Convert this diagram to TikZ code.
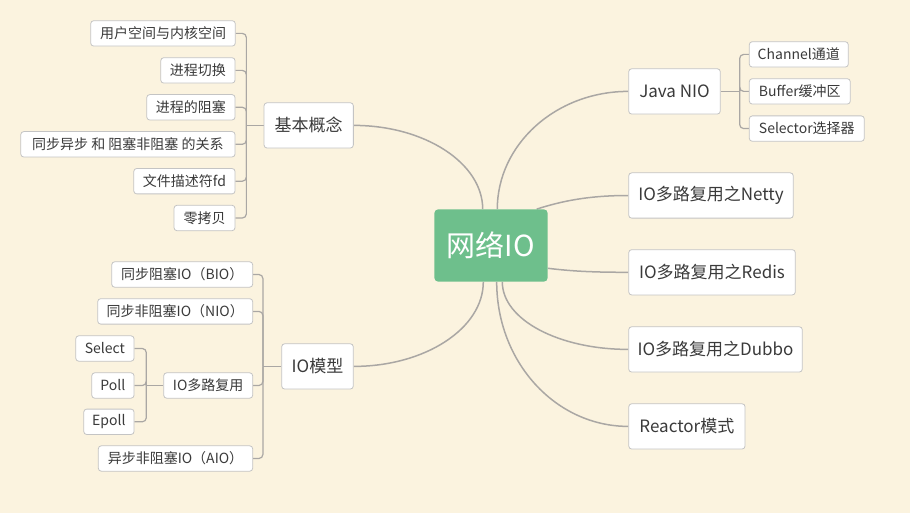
\documentclass[tikz,border=0pt]{standalone}
\usepackage{fontspec}
\setmainfont{Noto Sans CJK SC}
\usetikzlibrary{calc,backgrounds}
\definecolor{bg}{HTML}{FBF3DF}
\definecolor{gline}{HTML}{AAA7A4}
\definecolor{bord}{HTML}{C4C4C4}
\definecolor{ctr}{HTML}{6EBF8C}
\definecolor{txt}{HTML}{3A3A3A}
\begin{document}
\begin{tikzpicture}[x=1pt,y=-1pt,
  topic/.style={draw=bord, line width=0.8pt, fill=white, rounded corners=3pt, text=txt,
    inner sep=1pt, minimum height=45.3pt, font=\fontsize{17}{20}\selectfont},
  sub/.style={draw=bord, line width=0.8pt, fill=white, rounded corners=3pt, text=txt,
    inner sep=1pt, minimum height=25.4pt, font=\fontsize{14}{16}\selectfont},
  central/.style={fill=ctr, rounded corners=4pt, text=white, inner sep=1pt,
    minimum width=113.4pt, minimum height=72.4pt, font=\fontsize{29}{34}\selectfont},
  link/.style={draw=gline, line width=1.5pt},
  brk/.style={draw=gline, line width=1.2pt, rounded corners=4pt}]
\begin{scope}[on background layer]
  \fill[bg] (0,0) rectangle (910,513);
\end{scope}
\useasboundingbox (0,0) rectangle (910,513);

% central topic
\node[central] (c) at (491,245.5) {网络IO};

% left: basic concepts
\node[topic, minimum width=89.3pt] (kb) at (308.7,125.4) {基本概念};
\node[sub, minimum width=144.6pt] (k1) at (163,33.4) {用户空间与内核空间};
\node[sub, minimum width=74.3pt]  (k2) at (197.9,70.4) {进程切换};
\node[sub, minimum width=88.3pt]  (k3) at (190.9,107.3) {进程的阻塞};
\node[sub, minimum width=214.3pt] (k4) at (127.9,144.3) {同步异步 和 阻塞非阻塞 的关系};
\node[sub, minimum width=101.3pt] (k5) at (184.4,181.2) {文件描述符fd};
\node[sub, minimum width=61pt]    (k6) at (204.5,218) {零拷贝};

% left: IO models
\node[topic, minimum width=71.6pt] (io) at (317.5,366.4) {IO模型};
\node[sub, minimum width=141pt]   (i1) at (182.2,274.5) {同步阻塞IO（BIO）};
\node[sub, minimum width=155pt]   (i2) at (175.2,311.4) {同步非阻塞IO（NIO）};
\node[sub, minimum width=89pt]    (i3) at (208.2,385.5) {IO多路复用};
\node[sub, minimum width=154.4pt] (i4) at (175.5,458.5) {异步非阻塞IO（AIO）};
\node[sub, minimum width=58.3pt]  (s1) at (104.9,348.5) {Select};
\node[sub, minimum width=42.3pt]  (s2) at (112.9,385.5) {Poll};
\node[sub, minimum width=50.3pt]  (s3) at (108.9,421.8) {Epoll};

% right: Java NIO
\node[topic, minimum width=91.6pt] (jn) at (674.5,91.4) {Java NIO};
\node[sub, minimum width=99pt]    (j1) at (798.8,54.4) {Channel通道};
\node[sub, minimum width=101pt]   (j2) at (799.8,91.4) {Buffer缓冲区};
\node[sub, minimum width=115pt]   (j3) at (806.8,128.6) {Selector选择器};

% right: others
\node[topic, minimum width=164.6pt] (r1) at (711,195.5) {IO多路复用之Netty};
\node[topic, minimum width=166.6pt] (r2) at (712,272.3) {IO多路复用之Redis};
\node[topic, minimum width=173.6pt] (r3) at (715.5,349.4) {IO多路复用之Dubbo};
\node[topic, minimum width=116.3pt] (r4) at (686.9,426.4) {Reactor模式};

% spine coordinates
\coordinate (kbs) at ($(kb.west)+(-17.3,0)$);
\coordinate (ios) at ($(io.west)+(-18.4,0)$);
\coordinate (i3s) at ($(i3.west)+(-17,0)$);
\coordinate (jns) at ($(jn.east)+(19,0)$);

\begin{scope}[on background layer]
  % curved main links
  \draw[link] ([xshift=-8.3pt]c.north) .. controls +(0,-45.8) and +(71.1,0) .. (kb.east);
  \draw[link] ([xshift=-7.7pt]c.south) .. controls +(0,46.6) and +(71.4,0) .. (io.east);
  \draw[link] ([xshift=6.3pt]c.north) .. controls +(0,-64.5) and +(-72.6,0) .. (jn.west);
  \draw[link] ([xshift=45.7pt]c.north) .. controls +(25,-8) and +(-40,0) .. (r1.west);
  \draw[link] ([yshift=-22.8pt]c.east) .. controls +(25,3) and +(-35,0) .. (r2.west);
  \draw[link] ([xshift=11.3pt]c.south) .. controls +(0,37.7) and +(-69.8,0) .. (r3.west);
  \draw[link] ([xshift=5.7pt]c.south) .. controls +(0,80.1) and +(-72.9,0) .. (r4.west);
  % brackets
  \draw[brk] (kb.west) -- (kbs);
  \foreach \n in {k1,k2,k3,k4,k5,k6} \draw[brk] (\n.east) -| (kbs);
  \draw[brk] (io.west) -- (ios);
  \foreach \n in {i1,i2,i3,i4} \draw[brk] (\n.east) -| (ios);
  \draw[brk] (i3.west) -- (i3s);
  \foreach \n in {s1,s2,s3} \draw[brk] (\n.east) -| (i3s);
  \draw[brk] (jn.east) -- (jns);
  \foreach \n in {j1,j2,j3} \draw[brk] (\n.west) -| (jns);
\end{scope}
\end{tikzpicture}
\end{document}
